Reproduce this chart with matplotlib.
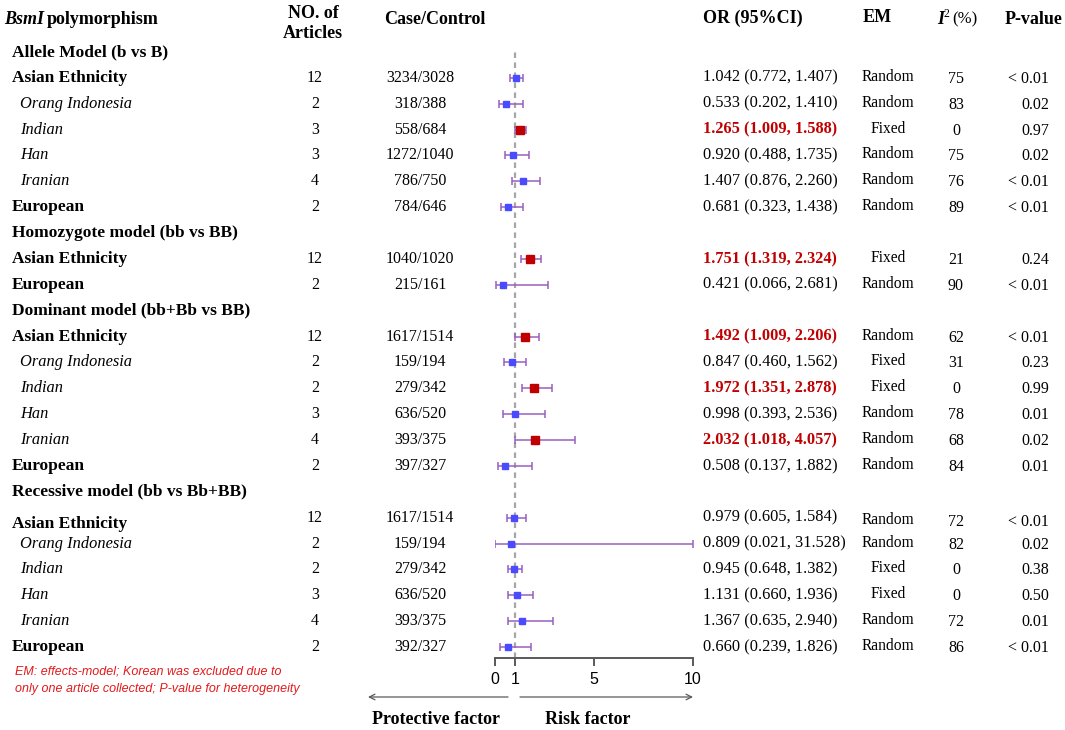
import numpy as np
import matplotlib
matplotlib.use("Agg")
import matplotlib.pyplot as plt

# rows: (label, kind) kind: h = model heading, b = bold group, i = italic subgroup
labels = ["Allele Model (b vs B)", "Asian Ethnicity", "Orang Indonesia", "Indian", "Han", "Iranian", "European",
          "Homozygote model (bb vs BB)", "Asian Ethnicity", "European",
          "Dominant model (bb+Bb vs BB)", "Asian Ethnicity", "Orang Indonesia", "Indian", "Han", "Iranian", "European",
          "Recessive model (bb vs Bb+BB)", "Asian Ethnicity", "Orang Indonesia", "Indian", "Han", "Iranian", "European"]
kinds = ["h", "b", "i", "i", "i", "i", "b",
         "h", "b", "b",
         "h", "b", "i", "i", "i", "i", "b",
         "h", "b", "i", "i", "i", "i", "b"]

articles = [None, 12, 2, 3, 3, 4, 2, None, 12, 2, None, 12, 2, 2, 3, 4, 2, None, 12, 2, 2, 3, 4, 2]
case_ctrl = [None, "3234/3028", "318/388", "558/684", "1272/1040", "786/750", "784/646",
             None, "1040/1020", "215/161",
             None, "1617/1514", "159/194", "279/342", "636/520", "393/375", "397/327",
             None, "1617/1514", "159/194", "279/342", "636/520", "393/375", "392/327"]
odds = [None, 1.042, 0.533, 1.265, 0.920, 1.407, 0.681,
        None, 1.751, 0.421,
        None, 1.492, 0.847, 1.972, 0.998, 2.032, 0.508,
        None, 0.979, 0.809, 0.945, 1.131, 1.367, 0.660]
ci_lo = [None, 0.772, 0.202, 1.009, 0.488, 0.876, 0.323,
         None, 1.319, 0.066,
         None, 1.009, 0.460, 1.351, 0.393, 1.018, 0.137,
         None, 0.605, 0.021, 0.648, 0.660, 0.635, 0.239]
ci_hi = [None, 1.407, 1.410, 1.588, 1.735, 2.260, 1.438,
         None, 2.324, 2.681,
         None, 2.206, 1.562, 2.878, 2.536, 4.057, 1.882,
         None, 1.584, 31.528, 1.382, 1.936, 2.940, 1.826]
em = [None, "Random", "Random", "Fixed", "Random", "Random", "Random",
      None, "Fixed", "Random",
      None, "Random", "Fixed", "Fixed", "Random", "Random", "Random",
      None, "Random", "Random", "Fixed", "Fixed", "Random", "Random"]
i2 = [None, 75, 83, 0, 75, 76, 89, None, 21, 90, None, 62, 31, 0, 78, 68, 84, None, 72, 82, 0, 0, 72, 86]
pval = [None, "< 0.01", "0.02", "0.97", "0.02", "< 0.01", "< 0.01",
        None, "0.24", "< 0.01",
        None, "< 0.01", "0.23", "0.99", "0.01", "0.02", "0.01",
        None, "< 0.01", "0.02", "0.38", "0.50", "0.01", "< 0.01"]
x_ticks = [0, 1, 5, 10]

SERIF = "Liberation Serif"
SANS = "Liberation Sans"
RED = "#c00000"
BLUE = "#4a4aff"
PURPLE = "#9860c0"
GREY = "#595959"

W, H = 1065, 730
Y0, STEP = 52, 25.87  # row layout in pixels

fig = plt.figure(figsize=(W / 100, H / 100), dpi=100)
fig.patch.set_facecolor("white")
ax = fig.add_axes([0, 0, 1, 1])
ax.set_xlim(0, W)
ax.set_ylim(H, 0)
ax.axis("off")


def txt(x, y, s, size=11.5, ha="left", weight="normal", style="normal", color="black", family=SERIF):
    ax.text(x, y, s, ha=ha, va="center", fontsize=size, fontweight=weight,
            fontstyle=style, color=color, family=family)


# header
txt(4, 20, "BsmI", 13, weight="bold", style="italic")
txt(47, 20, "polymorphism", 13, weight="bold")
txt(313, 13, "NO. of", 13, ha="center", weight="bold")
txt(313, 34, "Articles", 13, ha="center", weight="bold")
txt(435, 19, "Case/Control", 13, ha="center", weight="bold")
txt(703, 18, "OR (95%CI)", 13, weight="bold")
txt(877, 18, "EM", 13, ha="center", weight="bold")
txt(937, 19, "I", 13, weight="bold", style="italic")
txt(944, 14, "2", 8.5)
txt(952, 19, "(%)", 12)
txt(1005, 20, "P-value", 13, weight="bold")

# table rows
for i, lab in enumerate(labels):
    y = Y0 + i * STEP
    k = kinds[i]
    if k == "h":
        txt(12, y, lab, 12.5, weight="bold")
        continue
    if k == "b":
        ly = y + 6 if (i == 18) else y
        txt(12, ly, lab, 12.5, weight="bold")
    else:
        txt(20, y, lab, 11.8, style="italic")
    sig = ci_lo[i] > 1
    txt(315, y, str(articles[i]), 11.5, ha="center")
    txt(420, y, case_ctrl[i], 11.5, ha="center")
    or_s = f"{odds[i]:.3f} ({ci_lo[i]:.3f}, {ci_hi[i]:.3f})"
    txt(703, y, or_s, 11.8, weight="bold" if sig else "normal", color=RED if sig else "black")
    dy = 3 if i == 18 else 0
    txt(888, y - 1 + dy, em[i], 11.2, ha="center")
    txt(956, y + 1 + dy, str(i2[i]), 11.5, ha="center")
    txt(1049, y + 1 + dy, pval[i], 11.5, ha="right")

# footnote
txt(15, 672, "EM: effects-model; Korean was excluded due to", 9, style="italic", color="#e41a1c", family=SANS)
txt(15, 689, "only one article collected; P-value for heterogeneity", 9, style="italic", color="#e41a1c", family=SANS)

# forest panel: x 0..10 maps to px 495..693, rows in row units
top_px, bot_px = 50, 658
fax = fig.add_axes([495 / W, (H - bot_px) / H, 198 / W, (bot_px - top_px) / H])
fax.patch.set_alpha(0)
fax.set_xlim(0, 10)
fax.set_ylim((bot_px - Y0) / STEP, (top_px - Y0) / STEP)
for s in ["top", "left", "right"]:
    fax.spines[s].set_visible(False)
fax.spines["bottom"].set_color(GREY)
fax.spines["bottom"].set_linewidth(1.4)
fax.set_yticks([])
fax.set_xticks(x_ticks)
fax.set_xticklabels([str(t) for t in x_ticks], family=SANS, fontsize=11.5)
fax.tick_params(axis="x", direction="out", length=6, width=1.4, color=GREY, pad=4)

fax.axvline(1, color="#a6a6a6", ls=(0, (2.5, 2)), lw=1.6, zorder=1)

for i in range(len(labels)):
    if odds[i] is None:
        continue
    sig = ci_lo[i] > 1
    hi = min(ci_hi[i], 10)
    fax.errorbar(odds[i], i, xerr=[[odds[i] - ci_lo[i]], [hi - odds[i]]], fmt="none",
                 ecolor=PURPLE, elinewidth=1.1, capsize=2.6, capthick=1.1, zorder=2)
    fax.plot(odds[i], i, marker="s", ls="none", color=RED if sig else BLUE,
             markersize=5.8 if sig else 4.3, zorder=3)

# direction arrows
ax.annotate("", xy=(368, 697), xytext=(508, 697),
            arrowprops=dict(arrowstyle="->", color=GREY, lw=0.9, shrinkA=0, shrinkB=0))
ax.annotate("", xy=(693, 697), xytext=(520, 697),
            arrowprops=dict(arrowstyle="->", color=GREY, lw=0.9, shrinkA=0, shrinkB=0))
txt(436, 719, "Protective factor", 13, ha="center", weight="bold")
txt(588, 719, "Risk factor", 13, ha="center", weight="bold")

fig.savefig("out.png", dpi=100, facecolor="white")
